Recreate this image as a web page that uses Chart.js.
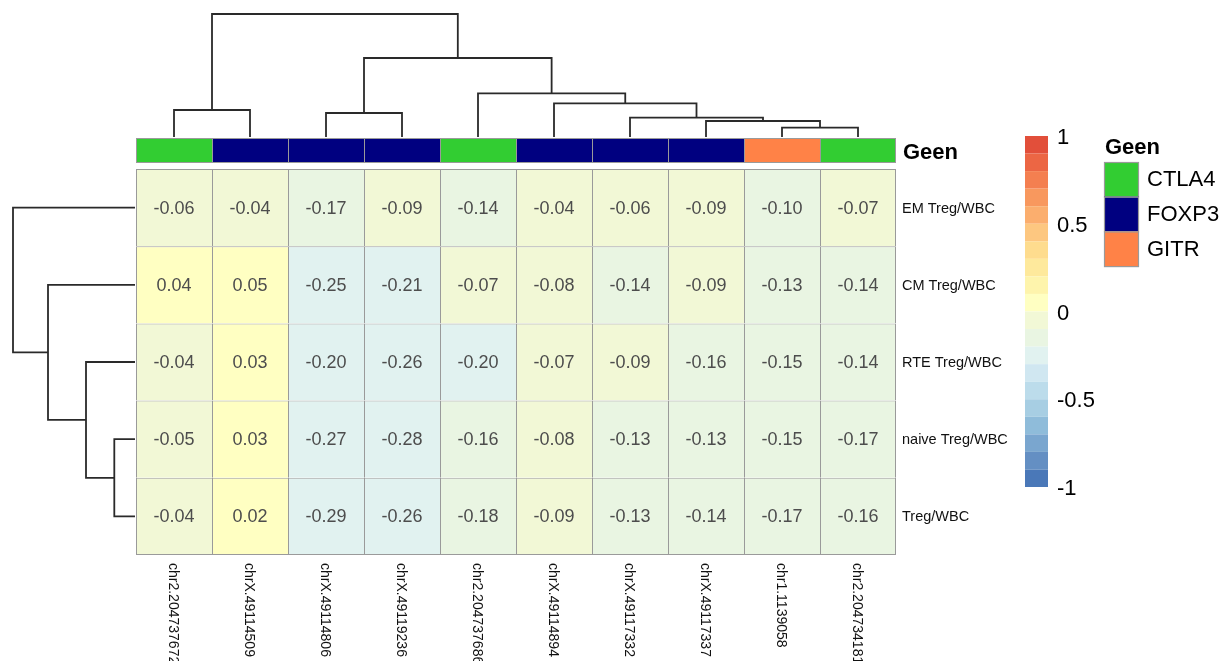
<!DOCTYPE html>
<html>
<head>
<meta charset="utf-8">
<title>Geen heatmap</title>
<script src="https://cdn.jsdelivr.net/npm/chart.js@4.4.0/dist/chart.umd.min.js"></script>
<style>
  html, body { margin: 0; padding: 0; background: #ffffff; }
  #wrap { position: relative; width: 1231px; height: 661px; overflow: hidden; background: #ffffff; }
  #wrap canvas { position: absolute; left: 0; top: 0; }
</style>
</head>
<body>
<div id="wrap">
  <canvas id="heat" width="1231" height="661"></canvas>
  <canvas id="annot" width="1231" height="661"></canvas>
  <canvas id="colTree" width="1231" height="661"></canvas>
  <canvas id="rowTree" width="1231" height="661"></canvas>
  <canvas id="legend" width="1231" height="661"></canvas>
</div>
<script>
// ---- data ----
const colLabels = ["chr2.204737672", "chrX.49114509", "chrX.49114806", "chrX.49119236", "chr2.204737686",
                   "chrX.49114894", "chrX.49117332", "chrX.49117337", "chr1.1139058", "chr2.204734181"];
const rowLabels = ["EM Treg/WBC", "CM Treg/WBC", "RTE Treg/WBC", "naive Treg/WBC", "Treg/WBC"];
const colGenes = ["CTLA4", "FOXP3", "FOXP3", "FOXP3", "CTLA4", "FOXP3", "FOXP3", "FOXP3", "GITR", "CTLA4"];

const rowEM    = [-0.06, -0.04, -0.17, -0.09, -0.14, -0.04, -0.06, -0.09, -0.10, -0.07];
const rowCM    = [ 0.04,  0.05, -0.25, -0.21, -0.07, -0.08, -0.14, -0.09, -0.13, -0.14];
const rowRTE   = [-0.04,  0.03, -0.20, -0.26, -0.20, -0.07, -0.09, -0.16, -0.15, -0.14];
const rowNaive = [-0.05,  0.03, -0.27, -0.28, -0.16, -0.08, -0.13, -0.13, -0.15, -0.17];
const rowTreg  = [-0.04,  0.02, -0.29, -0.26, -0.18, -0.09, -0.13, -0.14, -0.17, -0.16];

const geneNames  = ["CTLA4", "FOXP3", "GITR"];
const geneColors = ["#32CD32", "#000080", "#FF8247"];

// colour scale: 20 bins of width 0.1 from -1 to 1 (lowest bin first)
const binColors = ["#4A78B8", "#648FC3", "#7AA6CF", "#8FBCDA", "#A7CEE3", "#BCDCEB", "#D0E7F1", "#E1F2F0",
                   "#E9F5E2", "#F2F8D6", "#FFFFC2", "#FEF4AC", "#FEE99C", "#FEDC8E", "#FDC780", "#FBAE6E",
                   "#F8985E", "#F47F50", "#EC6644", "#E24F3A"];
const scaleMin = -1, scaleMax = 1, binWidth = 0.1;
const legendTicks = [-1, -0.5, 0, 0.5, 1];
const legendTickLabels = ["-1", "-0.5", "0", "0.5", "1"];

// column clustering (hclust style: negative = leaf, positive = earlier merge)
const colMergeLeft   = [-1, -3, -9, -8, -7, -6, -5, 2, 1];
const colMergeRight  = [-2, -4, -10, 3, 4, 5, 6, 7, 8];
const colMergeHeight = [27, 24, 9.3, 16, 19.3, 33.7, 43.7, 79, 123];

// row clustering
const rowMergeLeft   = [-4, -3, -2, -1];
const rowMergeRight  = [-5, 1, 2, 3];
const rowMergeHeight = [20.7, 49, 87, 122];

const heatRows = [rowEM, rowCM, rowRTE, rowNaive, rowTreg];

// ---- helpers ----
const FONT = "'Liberation Sans', Arial, Helvetica, sans-serif";
const GRID = "#9a9a9a";
const TREE = "#2a2a2a";

function binColor(v) {
  // right-closed bins (a, b]
  const k = Math.ceil(Math.round((v - scaleMin) * 1e6) / (binWidth * 1e6)) - 1;
  return binColors[Math.min(binColors.length - 1, Math.max(0, k))];
}

// Turns a merge table into bracket polylines: [{p, h}] per merge
function treeSegments(lefts, rights, heights) {
  const pos = [], hgt = [];
  const place = (id) => id < 0 ? { p: -id - 1, h: 0 } : { p: pos[id - 1], h: hgt[id - 1] };
  const segs = [];
  for (let i = 0; i < lefts.length; i++) {
    const a = place(lefts[i]), b = place(rights[i]), h = heights[i];
    pos.push((a.p + b.p) / 2);
    hgt.push(h);
    segs.push([{ p: a.p, h: a.h }, { p: a.p, h: h }, { p: b.p, h: h }, { p: b.p, h: b.h }]);
  }
  return segs;
}

const baseOpts = {
  responsive: false,
  animation: false,
  devicePixelRatio: 1,
  events: [],
  plugins: { legend: { display: false }, tooltip: { enabled: false } }
};

// ---- heatmap body ----
const cellText = {
  id: 'cellText',
  afterDatasetsDraw(chart) {
    const { ctx, scales: { x, y }, chartArea } = chart;
    ctx.save();
    ctx.font = "18px " + FONT;
    ctx.fillStyle = "#4D4D4D";
    ctx.textAlign = "center";
    ctx.textBaseline = "middle";
    heatRows.forEach((vals, r) => {
      vals.forEach((v, c) => {
        ctx.fillText(v.toFixed(2), x.getPixelForValue(c), y.getPixelForValue(r + 0.5) + 1);
      });
    });
    // row labels
    ctx.font = "14.5px " + FONT;
    ctx.fillStyle = "#111111";
    ctx.textAlign = "left";
    rowLabels.forEach((lab, r) => {
      ctx.fillText(lab, chartArea.right + 6, y.getPixelForValue(r + 0.5) + 1);
    });
    // column labels, rotated to read downward
    ctx.font = "14px " + FONT;
    colLabels.forEach((lab, c) => {
      ctx.save();
      ctx.translate(x.getPixelForValue(c) - 1, chartArea.bottom + 8);
      ctx.rotate(Math.PI / 2);
      ctx.textBaseline = "middle";
      ctx.fillText(lab, 0, 0);
      ctx.restore();
    });
    ctx.restore();
  }
};

new Chart(document.getElementById('heat'), {
  type: 'bar',
  data: {
    labels: colLabels,
    datasets: heatRows.map((vals, r) => ({
      label: rowLabels[r],
      data: vals.map(() => [r, r + 1]),
      backgroundColor: vals.map(binColor),
      borderColor: GRID,
      borderWidth: (ctx) => ({
        left: 1, top: 1,
        right: ctx.dataIndex === colLabels.length - 1 ? 1 : 0,
        bottom: r === heatRows.length - 1 ? 1 : 0
      }),
      borderSkipped: false,
      grouped: false,
      barPercentage: 1,
      categoryPercentage: 1,
      inflateAmount: 0
    }))
  },
  options: {
    ...baseOpts,
    layout: { padding: { left: 136, top: 169, right: 335, bottom: 106 } },
    scales: {
      x: { display: false },
      y: { display: false, min: 0, max: heatRows.length, reverse: true }
    }
  },
  plugins: [cellText]
});

// ---- column annotation bar ----
const annotTitle = {
  id: 'annotTitle',
  afterDatasetsDraw(chart) {
    const { ctx, chartArea } = chart;
    ctx.save();
    ctx.font = "bold 22px " + FONT;
    ctx.fillStyle = "#000000";
    ctx.textAlign = "left";
    ctx.textBaseline = "middle";
    ctx.fillText("Geen", chartArea.right + 7, (chartArea.top + chartArea.bottom) / 2 + 2);
    ctx.restore();
  }
};

new Chart(document.getElementById('annot'), {
  type: 'bar',
  data: {
    labels: colLabels,
    datasets: [{
      label: "Geen",
      data: colGenes.map(() => [0, 1]),
      backgroundColor: colGenes.map(g => geneColors[geneNames.indexOf(g)]),
      borderColor: GRID,
      borderWidth: (ctx) => ({ left: 1, top: 1, bottom: 1, right: ctx.dataIndex === colGenes.length - 1 ? 1 : 0 }),
      borderSkipped: false,
      barPercentage: 1,
      categoryPercentage: 1,
      inflateAmount: 0
    }]
  },
  options: {
    ...baseOpts,
    layout: { padding: { left: 136, top: 138, right: 335, bottom: 498 } },
    scales: {
      x: { display: false },
      y: { display: false, min: 0, max: 1 }
    }
  },
  plugins: [annotTitle]
});

// ---- column dendrogram ----
new Chart(document.getElementById('colTree'), {
  type: 'scatter',
  data: {
    datasets: treeSegments(colMergeLeft, colMergeRight, colMergeHeight).map(seg => ({
      data: seg.map(q => ({ x: q.p, y: q.h })),
      showLine: true,
      pointRadius: 0,
      borderColor: TREE,
      borderWidth: 1.8,
      tension: 0,
      clip: false
    }))
  },
  options: {
    ...baseOpts,
    layout: { padding: { left: 136, top: 14, right: 335, bottom: 524 } },
    scales: {
      x: { display: false, type: 'linear', min: -0.5, max: colLabels.length - 0.5 },
      y: { display: false, type: 'linear', min: 0, max: 123 }
    }
  }
});

// ---- row dendrogram ----
new Chart(document.getElementById('rowTree'), {
  type: 'scatter',
  data: {
    datasets: treeSegments(rowMergeLeft, rowMergeRight, rowMergeHeight).map(seg => ({
      data: seg.map(q => ({ x: q.h, y: q.p })),
      showLine: true,
      pointRadius: 0,
      borderColor: TREE,
      borderWidth: 1.8,
      tension: 0,
      clip: false
    }))
  },
  options: {
    ...baseOpts,
    layout: { padding: { left: 13, top: 169, right: 1096, bottom: 106 } },
    scales: {
      x: { display: false, type: 'linear', min: 0, max: 122, reverse: true },
      y: { display: false, type: 'linear', min: -0.5, max: rowLabels.length - 0.5, reverse: true }
    }
  }
});

// ---- legends: colour bar and Geen keys ----
const legendText = {
  id: 'legendText',
  afterDatasetsDraw(chart) {
    const { ctx, chartArea, scales: { y } } = chart;
    ctx.save();
    ctx.fillStyle = "#000000";
    ctx.textBaseline = "middle";
    ctx.textAlign = "left";
    ctx.font = "22px " + FONT;
    legendTicks.forEach((v, i) => {
      ctx.fillText(legendTickLabels[i], chartArea.right + 9, y.getPixelForValue(v) + 2);
    });
    // gene key
    const kx = 1104, ky = 162, kw = 35, kh = 34.7;
    ctx.font = "bold 22px " + FONT;
    ctx.fillText("Geen", kx + 1, 148);
    ctx.font = "22px " + FONT;
    geneNames.forEach((g, i) => {
      ctx.fillStyle = geneColors[i];
      ctx.fillRect(kx, ky + i * kh, kw, kh);
      ctx.strokeStyle = GRID;
      ctx.lineWidth = 1.2;
      ctx.strokeRect(kx + 0.5, ky + i * kh + 0.5, kw - 1, kh);
      ctx.fillStyle = "#000000";
      ctx.fillText(g, kx + kw + 8, ky + i * kh + kh / 2 + 1);
    });
    ctx.restore();
  }
};

new Chart(document.getElementById('legend'), {
  type: 'bar',
  data: {
    labels: ["scale"],
    datasets: binColors.map((col, i) => ({
      data: [[scaleMin + i * binWidth, scaleMin + (i + 1) * binWidth]],
      backgroundColor: col,
      borderWidth: 0,
      grouped: false,
      barPercentage: 1,
      categoryPercentage: 1,
      inflateAmount: 0
    }))
  },
  options: {
    ...baseOpts,
    layout: { padding: { left: 1025, top: 136, right: 183, bottom: 174 } },
    scales: {
      x: { display: false },
      y: { display: false, min: scaleMin, max: scaleMax }
    }
  },
  plugins: [legendText]
});
</script>
</body>
</html>
